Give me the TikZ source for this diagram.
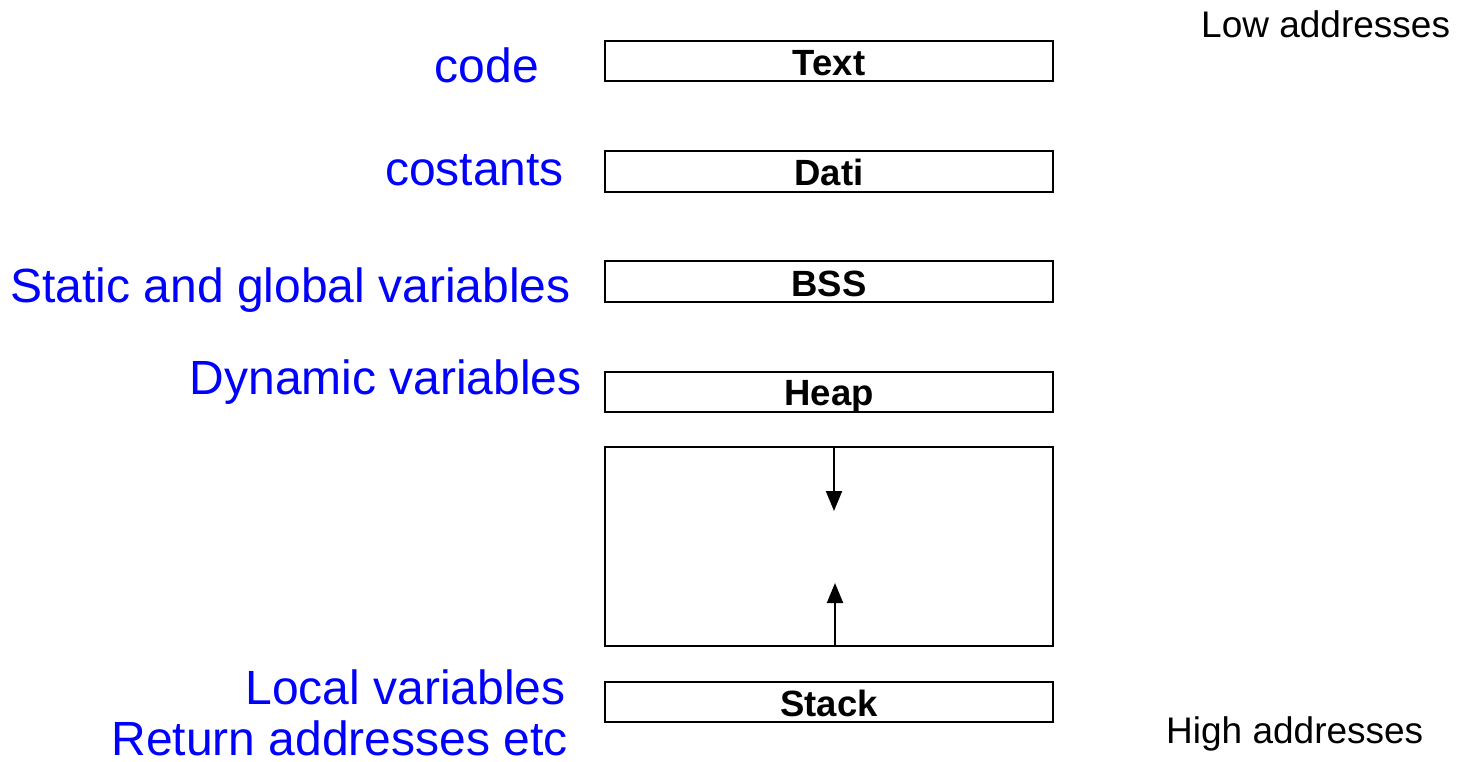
\documentclass[tikz,border=0pt]{standalone}
\usepackage{fontspec}
\setmainfont{Liberation Sans}
\usetikzlibrary{arrows.meta}
\definecolor{lblblue}{RGB}{0,0,255}
\begin{document}
\begin{tikzpicture}[x=1pt,y=-1pt,
  seg/.style={draw=black,line width=2pt},
  boxlbl/.style={anchor=base,font=\fontsize{36.5}{40}\selectfont\bfseries,inner sep=0pt},
  bluelbl/.style={anchor=base east,text=lblblue,font=\fontsize{48}{54}\selectfont,inner sep=0pt},
  addr/.style={anchor=base west,font=\fontsize{37}{42}\selectfont,inner sep=0pt},
  arr/.style={line width=2pt,-{Triangle[length=20pt,width=16pt]}}]
\useasboundingbox (0,0) rectangle (1459,762);
% segment boxes
\draw[seg] (605,41) rectangle (1053,81);
\draw[seg] (605,151) rectangle (1053,192);
\draw[seg] (605,261) rectangle (1053,302);
\draw[seg] (605,372) rectangle (1053,412);
\draw[seg] (605,447) rectangle (1053,646);
\draw[seg] (605,682) rectangle (1053,722);
% box labels
\node[boxlbl] (text) at (829,76) {Text};
\node[boxlbl] (dati) at (829,186) {Dati};
\node[boxlbl] (bss) at (829,296) {BSS};
\node[boxlbl] (heap) at (829,405) {Heap};
\node[boxlbl] (stack) at (829,716) {Stack};
% arrows
\coordinate (hs) at (834,447);
\coordinate (he) at (834,511);
\coordinate (ss) at (835,646);
\coordinate (se) at (835,583);
\draw[arr] (hs) -- (he);
\draw[arr] (ss) -- (se);
% blue labels
\node[bluelbl] (lcode) at (539,83) {code};
\node[bluelbl] (lconst) at (564,186) {costants};
\node[bluelbl] (lstatic) at (571,302) {Static and global variables};
\node[bluelbl] (ldyn) at (582,394) {Dynamic variables};
\node[bluelbl] (lloc) at (566,704) {Local variables};
\node[bluelbl] (lret) at (568,755) {Return addresses etc};
% address labels
\node[addr] (low) at (1201,38) {Low addresses};
\node[addr] (high) at (1166,743) {High addresses};
\end{tikzpicture}
\end{document}
